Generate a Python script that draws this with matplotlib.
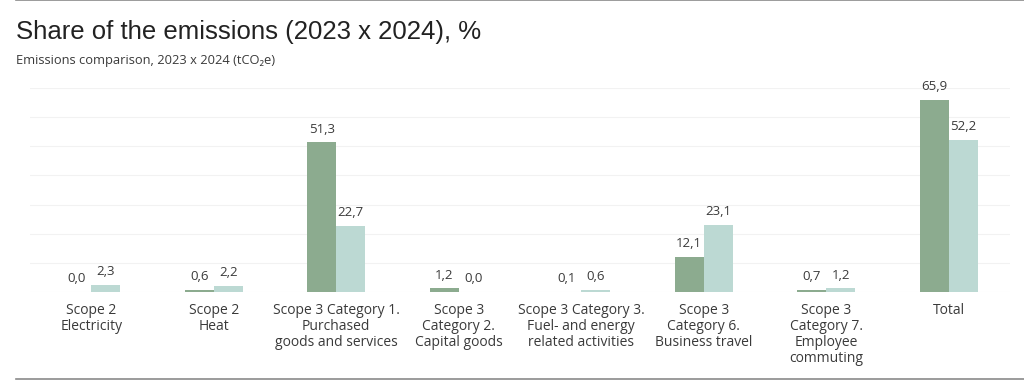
import numpy as np
import matplotlib.pyplot as plt
from matplotlib.lines import Line2D

### data
categories = ["Scope 2\nElectricity", "Scope 2\nHeat",
              "Scope 3 Category 1.\nPurchased\ngoods and services",
              "Scope 3\nCategory 2.\nCapital goods",
              "Scope 3 Category 3.\nFuel- and energy\nrelated activities",
              "Scope 3\nCategory 6.\nBusiness travel",
              "Scope 3\nCategory 7.\nEmployee\ncommuting",
              "Total"]
share_2023 = [0.0, 0.6, 51.3, 1.2, 0.1, 12.1, 0.7, 65.9]
share_2024 = [2.3, 2.2, 22.7, 0.0, 0.6, 23.1, 1.2, 52.2]

c23 = "#8cab8f"
c24 = "#bcd9d3"
txt = "#3a3a3a"
font = ["Open Sans", "DejaVu Sans"]

fig = plt.figure(figsize=(10.24, 3.8), dpi=100)
ax = fig.add_axes([0.0293, 0.2316, 0.957, 0.537])

x = np.arange(len(categories))
w = 0.238
b1 = ax.bar(x - w / 2, share_2023, width=w, color=c23, zorder=2)
b2 = ax.bar(x + w / 2, share_2024, width=w, color=c24, zorder=2)

def fmt(v):
    return f"{v:.1f}".replace(".", ",")

for bars, vals in [(b1, share_2023), (b2, share_2024)]:
    for r, v in zip(bars, vals):
        ax.annotate(fmt(v), (r.get_x() + r.get_width() / 2, v),
                    xytext=(0, 5), textcoords="offset points",
                    ha="center", va="bottom", fontsize=9.5,
                    color=txt, family=font)

ax.set_xlim(-0.5, 7.5)
ax.set_ylim(0, 70)
ax.set_yticks(np.arange(0, 71, 10))
ax.yaxis.grid(True, color="#f2f2f2", lw=0.8, zorder=0)
ax.tick_params(axis="y", left=False, labelleft=False)
ax.tick_params(axis="x", length=0, pad=8)
ax.set_xticks(x)
ax.set_xticklabels(categories, fontsize=10, color=txt, family=font,
                   linespacing=1.1)
for s in ax.spines.values():
    s.set_visible(False)

fig.text(0.016, 0.897, "Share of the emissions (2023 x 2024), %",
         fontsize=18.5, color="#222222", family=["Liberation Sans", "DejaVu Sans"],
         va="baseline")
fig.text(0.016, 0.832, "Emissions comparison, 2023 x 2024 (tCO\u2082e)",
         fontsize=9.3, color=txt, family=font, va="baseline")

# rules at top and bottom of the panel
fig.add_artist(Line2D([0.016, 1.0], [0.999, 0.999], color="#8a8a8a", lw=1.2,
                      transform=fig.transFigure))
fig.add_artist(Line2D([0.016, 1.0], [0.003, 0.003], color="#8a8a8a", lw=1.2,
                      transform=fig.transFigure))

fig.savefig("out.png", dpi=100, facecolor="white")
